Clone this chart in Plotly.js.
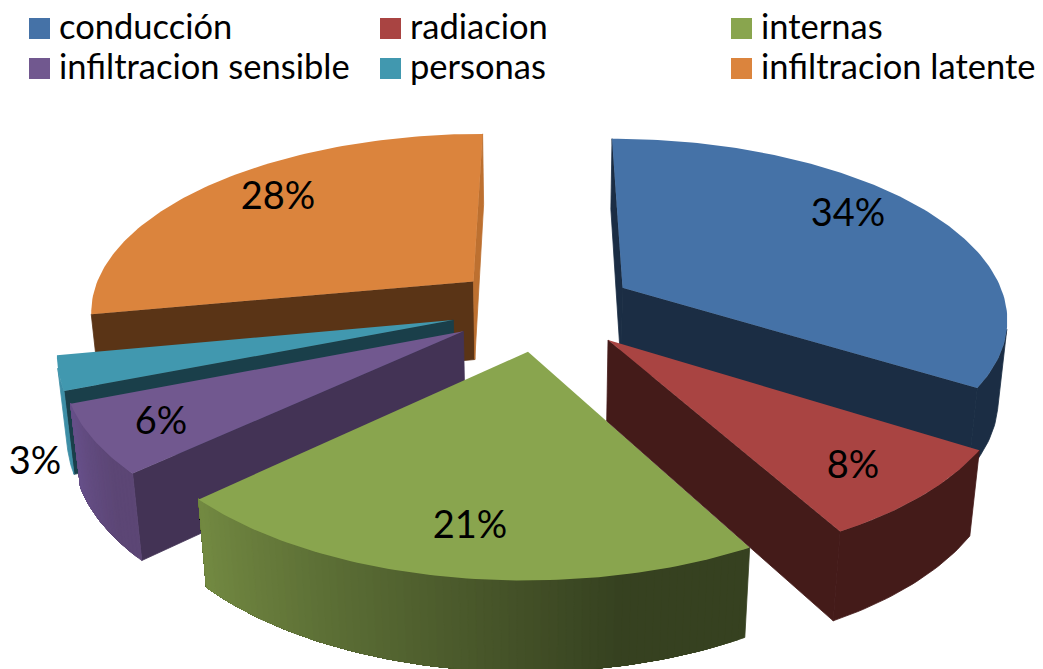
<!DOCTYPE html>
<html>
<head>
<meta charset="utf-8">
<script src="https://cdn.plot.ly/plotly-3.0.1.min.js"></script>
<style>html,body{margin:0;padding:0;background:#fff}#chart{width:1043px;height:669px}</style>
</head>
<body>
<div id="chart"></div>
<script>
// Heat-load shares, in percent, clockwise from twelve o'clock
const categories = ["conducción", "radiacion", "internas", "infiltracion sensible", "personas", "infiltracion latente"];
const values = [34, 8, 21, 6, 3, 28];

// Colours of each slice: top face, flat cut walls, and the outer rim at each end
const topColors = ["#4572a7", "#a94442", "#89a54e", "#71588f", "#4198af", "#db843d"];
const startWall = ["#1b2d44", "#441b19", "#364120", "#433355", "#1a3f4a", "#5a3416"];
const endWall = ["#1b2d44", "#441b19", "#364120", "#433355", "#1a3f4a", "#bd7030"];
const rimStart = ["#1b2d44", "#441b19", "#364120", "#5c4675", "#3d8ea6", "#5a3416"];
const rimEnd = ["#1b2d44", "#441b19", "#738a42", "#67508a", "#3d8ea6", "#5a3416"];

// Drawing order, far slices before near ones
const paintOrder = [5, 4, 3, 2, 0, 1];

// Label anchors and legend layout, in axis units
const labelX = [848, 853, 470, 161, 35, 278];
const labelY = [216, 468, 528, 424, 464, 199];
const legendSwatchX = [39.5, 390.5, 741.5, 39.5, 390.5, 741.5];
const legendSwatchY = [28.5, 28.5, 28.5, 68.5, 68.5, 68.5];
const legendTextX = [59, 410, 761, 59, 410, 761];
const legendTextY = [30, 30, 30, 70, 70, 70];
const legendOrder = [0, 1, 2, 3, 4, 5];

// Perspective camera for the tilted pie
const cam = {cx: 543, y0: 308, A: 385, B: 178, k: 0.155, q: 0.02, H: 81};
const explode = 0.24;

function project(wx, wy, drop) {
  const d = 1 + cam.k * wy + cam.q * drop;
  return [cam.cx + cam.A * wx / d, cam.y0 + (-cam.B * wy + cam.H * drop) / d];
}

function hexMix(a, b, t) {
  const p = s => [1, 3, 5].map(i => parseInt(s.substr(i, 2), 16));
  const ca = p(a), cb = p(b);
  return "rgb(" + ca.map((v, i) => Math.round(v + (cb[i] - v) * t)).join(",") + ")";
}

function poly(points, color, edge) {
  const xs = points.map(p => p[0]), ys = points.map(p => p[1]);
  xs.push(xs[0]); ys.push(ys[0]);
  return {
    type: "scatter", mode: "lines", x: xs, y: ys, fill: "toself", fillcolor: color,
    line: edge ? {color: color, width: edge} : {width: 0}, hoverinfo: "skip", showlegend: false
  };
}

function signedArea(q) {
  let s = 0;
  for (let i = 0; i < q.length; i++) {
    const a = q[i], b = q[(i + 1) % q.length];
    s += a[0] * b[1] - b[0] * a[1];
  }
  return s;
}

function facesViewer(p1, p2) {
  return signedArea([project(p1[0], p1[1], 0), project(p2[0], p2[1], 0),
                     project(p2[0], p2[1], 1), project(p1[0], p1[1], 1)]) < 0;
}

// A wall band running along a path of ground points, from its top edge down to its base
function band(path, color) {
  const top = path.map(p => project(p[0], p[1], 0));
  const base = path.map(p => project(p[0], p[1], 1)).reverse();
  return poly(top.concat(base), color, 0.8);
}

const total = values.reduce((s, v) => s + v, 0);
const startAngles = [];
values.reduce((acc, v, i) => { startAngles[i] = acc; return acc + v / total * 2 * Math.PI; }, 0);

function sliceTraces(i) {
  const a0 = startAngles[i], a1 = a0 + values[i] / total * 2 * Math.PI, mid = (a0 + a1) / 2;
  const apex = [explode * Math.sin(mid), explode * Math.cos(mid)];
  const at = a => [apex[0] + Math.sin(a), apex[1] + Math.cos(a)];
  const n = Math.max(4, Math.ceil((a1 - a0) / (Math.PI / 180)));
  const rim = [];
  for (let j = 0; j <= n; j++) rim.push(at(a0 + (a1 - a0) * j / n));

  const out = [];
  if (facesViewer(apex, rim[0])) out.push(band([apex, rim[0]], startWall[i]));
  if (facesViewer(rim[n], apex)) out.push(band([rim[n], apex], endWall[i]));

  // Visible rim: each band runs to the far end of the visible arc so that later
  // bands overlap earlier ones and no seam shows between neighbouring tones
  const visible = [];
  for (let j = 0; j < n; j++) if (facesViewer(rim[j], rim[j + 1])) visible.push(j);
  visible.forEach((j, idx) => {
    const last = visible[visible.length - 1];
    const path = rim.slice(j, last + 2);
    // Shading holds its darkest tone through the first stretch of the arc
    const t = Math.max(0, (j / n - 0.22) / 0.78);
    if (rimStart[i] !== rimEnd[i] || idx === 0) out.push(band(path, hexMix(rimStart[i], rimEnd[i], t)));
  });

  out.push(poly([apex].concat(rim).map(p => project(p[0], p[1], 0)), topColors[i]));
  return out;
}

const FONT = "Lato, 'Open Sans', sans-serif";
const traces = [];
paintOrder.forEach(i => traces.push(...sliceTraces(i)));

// Percentage labels derived from the values
traces.push({
  type: "scatter", mode: "text", x: labelX, y: labelY,
  text: values.map(v => Math.round(v / total * 100) + "%"),
  textposition: "middle center",
  textfont: {family: FONT, size: 38, color: "#000"},
  hoverinfo: "skip", showlegend: false
});

// Legend swatches and names
traces.push({
  type: "scatter", mode: "markers", x: legendSwatchX, y: legendSwatchY,
  marker: {symbol: "square", size: 21, color: legendOrder.map(i => topColors[i]), line: {width: 0}},
  hoverinfo: "skip", showlegend: false
});
traces.push({
  type: "scatter", mode: "text", x: legendTextX, y: legendTextY,
  text: legendOrder.map(i => categories[i]),
  textposition: "middle right",
  textfont: {family: FONT, size: 34.5, color: "#000"},
  hoverinfo: "skip", showlegend: false
});

const hiddenAxis = {visible: false, showgrid: false, zeroline: false, fixedrange: true};
Plotly.newPlot("chart", traces, {
  width: 1043, height: 669,
  margin: {l: 0, r: 0, t: 0, b: 0},
  paper_bgcolor: "#ffffff", plot_bgcolor: "#ffffff",
  xaxis: Object.assign({range: [0, 1043]}, hiddenAxis),
  yaxis: Object.assign({range: [669, 0]}, hiddenAxis),
  showlegend: false
}, {displayModeBar: false, staticPlot: true});
</script>
</body>
</html>
